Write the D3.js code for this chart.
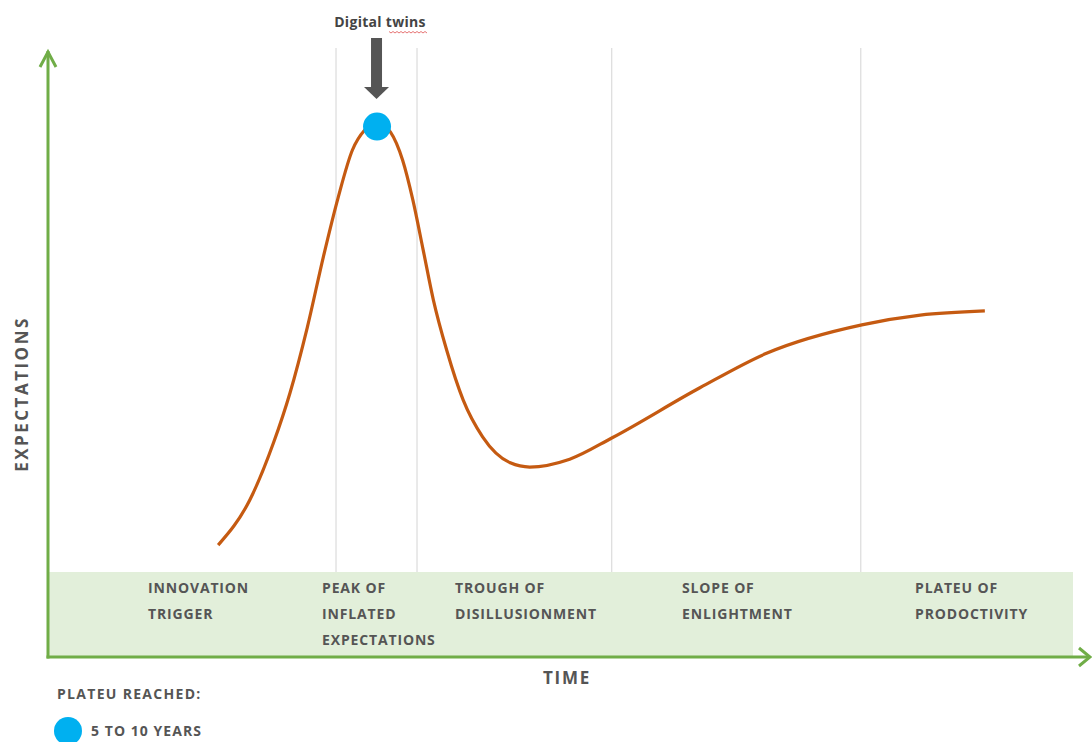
<!DOCTYPE html>
<html>
<head>
<meta charset="utf-8">
<script src="https://cdn.jsdelivr.net/npm/d3@7"></script>
<style>
  body { margin: 0; background: #fff; }
  svg { display: block; }
  text { font-family: "Open Sans", Lato, sans-serif; font-weight: 700; fill: #555; }
</style>
</head>
<body>
<div id="chart"></div>
<script>
// hype cycle curve, time (0-100) vs expectations (0-100)
var curveTime = [16.6, 19.7, 22.0, 23.6, 25.3, 26.9, 28.3, 29.7, 30.9, 32.1, 33.4, 34.6, 35.6, 36.6, 37.6, 38.9, 40.5, 42.4, 45.1, 47.0, 50.9, 55.0, 63.6, 70.1, 79.4, 85.1, 91.4];
var curveExpect = [18.5, 26.0, 35.4, 43.6, 54.5, 66.4, 75.9, 83.8, 87.1, 88.4, 86.8, 82.1, 75.5, 67.3, 59.0, 50.7, 42.5, 36.4, 32.1, 31.4, 32.7, 36.2, 44.5, 50.2, 54.9, 56.5, 57.2];

// phase boundaries (time)
var phaseBounds = [28.1, 36.0, 55.0, 79.3];
var phaseNames = [
  ["INNOVATION", "TRIGGER"],
  ["PEAK OF", "INFLATED", "EXPECTATIONS"],
  ["TROUGH OF", "DISILLUSIONMENT"],
  ["SLOPE OF", "ENLIGHTMENT"],
  ["PLATEU OF", "PRODOCTIVITY"]
];

// technologies on the curve
var techNames = ["Digital twins"];
var techTime = [32.1];
var techExpect = [88.0];

var legendTitle = "PLATEU REACHED:";
var legendLabels = ["5 TO 10 YEARS"];

var consts = {
  width: 1092,
  height: 742,
  left: 48,
  right: 1073,
  bottom: 657,
  top: 52
};

var svg = d3.select("#chart").append("svg")
  .attr("width", consts.width)
  .attr("height", consts.height);

var x = d3.scaleLinear().domain([0, 100]).range([consts.left, consts.right]);
var y = d3.scaleLinear().domain([0, 100]).range([consts.bottom, consts.top]);

var green = "#70ad47";

// label band
var bandTop = 572;
svg.append("rect")
  .attr("x", x(0)).attr("y", bandTop)
  .attr("width", x(100) - x(0)).attr("height", consts.bottom - bandTop)
  .attr("fill", "#e2efda");

// phase separators
svg.selectAll(".sep")
  .data(phaseBounds)
  .enter().append("line")
  .attr("class", "sep")
  .attr("x1", function (d) { return x(d); })
  .attr("x2", function (d) { return x(d); })
  .attr("y1", 48).attr("y2", bandTop)
  .attr("stroke", "#d4d4d4").attr("stroke-width", 1);

// phase labels
var labelX = [148, 322, 455, 682, 915];
var phase = svg.selectAll(".phase")
  .data(phaseNames)
  .enter().append("text")
  .attr("class", "phase")
  .attr("font-size", 14)
  .attr("letter-spacing", 0.85);
phase.selectAll("tspan")
  .data(function (d, i) { return d.map(function (s) { return { s: s, i: i }; }); })
  .enter().append("tspan")
  .attr("x", function (d) { return labelX[d.i]; })
  .attr("y", function (d, j) { return 593 + j * 26; })
  .text(function (d) { return d.s; });

// axes
svg.append("line")
  .attr("x1", x(0)).attr("y1", y(0) + 1.5)
  .attr("x2", x(0)).attr("y2", 51)
  .attr("stroke", green).attr("stroke-width", 3);
svg.append("path")
  .attr("d", "M40,67 L48,52 L56,67")
  .attr("fill", "none").attr("stroke", green).attr("stroke-width", 3);
svg.append("line")
  .attr("x1", x(0) - 1.5).attr("y1", y(0))
  .attr("x2", 1089).attr("y2", y(0))
  .attr("stroke", green).attr("stroke-width", 3);
svg.append("path")
  .attr("d", "M1079,648 L1090,657 L1079,666")
  .attr("fill", "none").attr("stroke", green).attr("stroke-width", 3);

// curve
var pts = curveTime.map(function (t, i) { return [t, curveExpect[i]]; });
var line = d3.line()
  .x(function (d) { return x(d[0]); })
  .y(function (d) { return y(d[1]); })
  .curve(d3.curveMonotoneX);
svg.append("path")
  .datum(pts)
  .attr("d", line)
  .attr("fill", "none")
  .attr("stroke", "#c55a11")
  .attr("stroke-width", 3.2);

// tech markers
techNames.forEach(function (name, i) {
  var cx = x(techTime[i]), cy = y(techExpect[i]) + 2;
  svg.append("circle")
    .attr("cx", cx).attr("cy", cy).attr("r", 14)
    .attr("fill", "#00b0f0");
  // arrow
  svg.append("rect")
    .attr("x", cx - 6).attr("y", 38).attr("width", 11).attr("height", 50)
    .attr("fill", "#555");
  svg.append("path")
    .attr("d", "M" + (cx - 13) + ",87 L" + (cx + 12) + ",87 L" + (cx - 0.5) + ",99 Z")
    .attr("fill", "#555");
  svg.append("text")
    .attr("x", cx + 3).attr("y", 27)
    .attr("text-anchor", "middle")
    .attr("font-size", 14)
    .attr("letter-spacing", 0.3)
    .style("fill", "#444")
    .text(name);
  // spell-check squiggle under the second word
  var sq = "M389,31.5";
  for (var k = 0; k < 19; k++) {
    sq += " L" + (391 + k * 2) + "," + (k % 2 ? 31.5 : 33);
  }
  svg.append("path").attr("d", sq)
    .attr("fill", "none").attr("stroke", "#e05050").attr("stroke-width", 0.8);
});

// axis titles
svg.append("text")
  .attr("x", 567).attr("y", 684)
  .attr("text-anchor", "middle")
  .attr("font-size", 17)
  .attr("letter-spacing", 1.7)
  .text("TIME");
svg.append("text")
  .attr("transform", "translate(28,394) rotate(-90)")
  .attr("text-anchor", "middle")
  .attr("font-size", 17)
  .attr("letter-spacing", 2.5)
  .text("EXPECTATIONS");

// legend
svg.append("text")
  .attr("x", 57).attr("y", 699)
  .attr("font-size", 14)
  .attr("letter-spacing", 1.3)
  .text(legendTitle);
legendLabels.forEach(function (lab, i) {
  svg.append("circle")
    .attr("cx", 68).attr("cy", 731 + i * 30).attr("r", 14)
    .attr("fill", "#00b0f0");
  svg.append("text")
    .attr("x", 91).attr("y", 736 + i * 30)
    .attr("font-size", 14)
    .attr("letter-spacing", 1.05)
    .text(lab);
});
</script>
</body>
</html>
